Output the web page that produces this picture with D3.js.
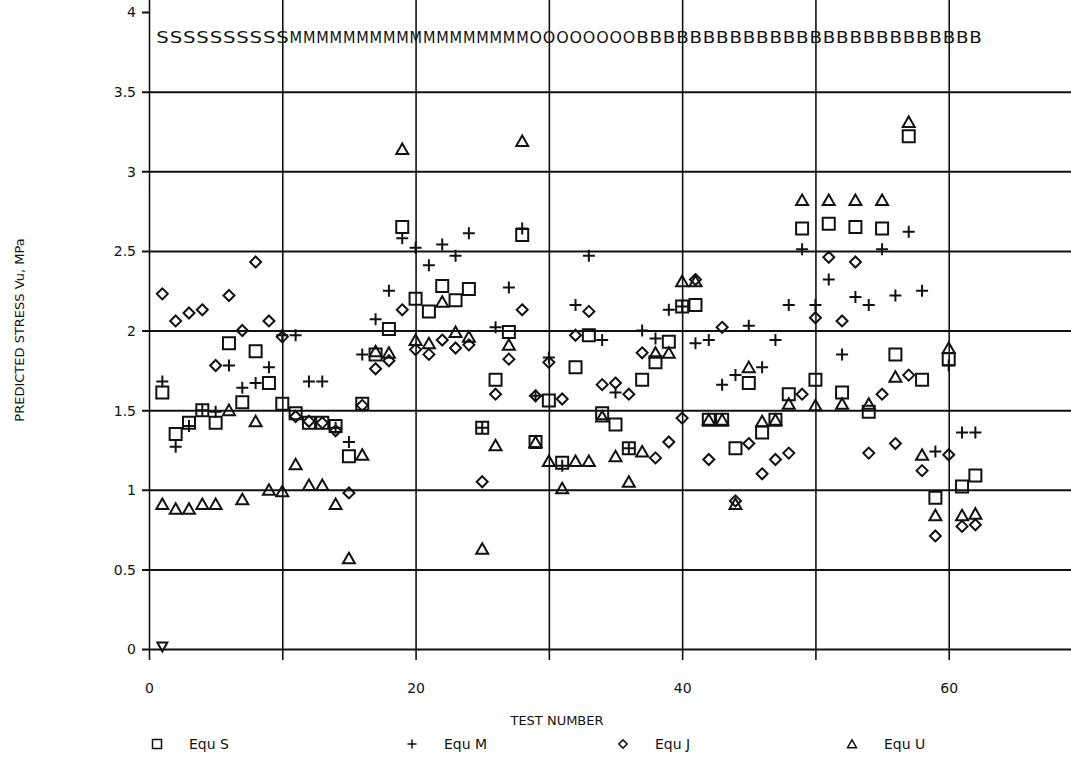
<!DOCTYPE html>
<html>
<head>
<meta charset="utf-8">
<script src="https://cdn.jsdelivr.net/npm/d3@7"></script>
<style>
  body { margin: 0; background: #fff; }
  text { font-family: "DejaVu Sans", sans-serif; fill: #111; }
</style>
</head>
<body>
<svg width="1071" height="757"></svg>
<script>
// test numbers and the group letter printed above each one
const tests = [1,2,3,4,5,6,7,8,9,10,11,12,13,14,15,16,17,18,19,20,21,22,23,24,25,26,27,28,29,30,31,
  32,33,34,35,36,37,38,39,40,41,42,43,44,45,46,47,48,49,50,51,52,53,54,55,56,57,58,59,60,61,62];
const groups = "SSSSSSSSSSMMMMMMMMMMMMMMMMMMOOOOOOOOBBBBBBBBBBBBBBBBBBBBBBBBBB".split("");

// predicted stress (MPa), one value per test
const equS = [1.61,1.35,1.42,1.50,1.42,1.92,1.55,1.87,1.67,1.54,1.48,1.42,1.42,1.40,1.21,1.54,1.85,2.01,2.65,2.20,
  2.12,2.28,2.19,2.26,1.39,1.69,1.99,2.60,1.30,1.56,1.17,1.77,1.97,1.48,1.41,1.26,1.69,1.80,1.93,2.15,
  2.16,1.44,1.44,1.26,1.67,1.36,1.44,1.60,2.64,1.69,2.67,1.61,2.65,1.49,2.64,1.85,3.22,1.69,0.95,1.82,1.02,1.09];
const equM = [1.68,1.27,1.40,1.50,1.49,1.78,1.64,1.67,1.77,1.97,1.97,1.68,1.68,1.39,1.30,1.85,2.07,2.25,2.58,2.52,
  2.41,2.54,2.47,2.61,1.39,2.02,2.27,2.64,1.59,1.83,1.15,2.16,2.47,1.94,1.61,1.26,2.00,1.95,2.13,2.15,
  1.92,1.94,1.66,1.72,2.03,1.77,1.94,2.16,2.51,2.16,2.32,1.85,2.21,2.16,2.51,2.22,2.62,2.25,1.24,1.78,1.36,1.36];
const equJ = [2.23,2.06,2.11,2.13,1.78,2.22,2.00,2.43,2.06,1.96,1.46,1.43,1.42,1.37,0.98,1.53,1.76,1.81,2.13,1.88,
  1.85,1.94,1.89,1.91,1.05,1.60,1.82,2.13,1.59,1.80,1.57,1.97,2.12,1.66,1.67,1.60,1.86,1.20,1.30,1.45,
  2.32,1.19,2.02,0.93,1.29,1.10,1.19,1.23,1.60,2.08,2.46,2.06,2.43,1.23,1.60,1.29,1.72,1.12,0.71,1.22,0.77,0.78];
const equU = [0.91,0.88,0.88,0.91,0.91,1.50,0.94,1.43,1.00,0.99,1.16,1.03,1.03,0.91,0.57,1.22,1.87,1.86,3.14,1.94,
  1.92,2.18,1.99,1.96,0.63,1.28,1.91,3.19,1.30,1.18,1.01,1.18,1.18,1.46,1.21,1.05,1.24,1.86,1.86,2.31,
  2.31,1.44,1.44,0.91,1.77,1.43,1.44,1.54,2.82,1.53,2.82,1.54,2.82,1.54,2.82,1.71,3.31,1.22,0.84,1.89,0.84,0.85];
// stray mark sitting on the zero line
const strayTest = [1];
const strayValue = [0.01];

const yTicks = [0, 0.5, 1, 1.5, 2, 2.5, 3, 3.5, 4];
const xTicks = [0, 10, 20, 30, 40, 50, 60];
const seriesNames = ["Equ S", "Equ M", "Equ J", "Equ U"];

const svg = d3.select("svg");
const W = 1071;

const x = d3.scaleLinear().domain([0, 70]).range([149, 1082]);
const y = d3.scaleLinear().domain([0, 4]).range([649, 12]);

// marker shapes (outline only, like the plotter output)
const shapes = {
  "Equ S": "M-6,-6h12v12h-12Z",
  "Equ M": "M-6,0h12M0,-6v12",
  "Equ J": "M0,-5.5L5.5,0L0,5.5L-5.5,0Z",
  "Equ U": "M0,-5.5L6,5L-6,5Z"
};

// horizontal grid + y ticks (top value only gets a short tick)
const yAxis = svg.append("g")
  .attr("transform", "translate(142,0)")
  .call(d3.axisLeft(y).tickValues(yTicks).tickSize(-(W - 142)).tickPadding(6)
    .tickFormat(d3.format("")));
yAxis.select(".domain").remove();
yAxis.selectAll(".tick line")
  .attr("stroke", "#111")
  .attr("stroke-width", 2)
  .attr("x2", d => d === 4 ? 8 : W - 142);
yAxis.selectAll(".tick text").attr("font-size", 14).attr("dy", "0.35em");

// vertical grid + x ticks, labels every 20
const xAxis = svg.append("g")
  .attr("transform", "translate(0,660)")
  .call(d3.axisBottom(x).tickValues(xTicks).tickSize(-660).tickPadding(23)
    .tickFormat(d => d % 20 === 0 ? d : ""));
xAxis.select(".domain").remove();
xAxis.selectAll(".tick line").attr("stroke", "#111").attr("stroke-width", 1.6);
xAxis.selectAll(".tick text").attr("font-size", 14);

// group letters along the top
svg.append("g").selectAll("text")
  .data(tests)
  .enter()
  .append("text")
  .attr("x", d => x(d) - 6)
  .attr("y", 43)
  .attr("font-size", 15)
  .attr("textLength", 12.5)
  .attr("lengthAdjust", "spacingAndGlyphs")
  .text((d, i) => groups[i]);

// points
const series = [equS, equM, equJ, equU];
series.forEach((vals, k) => {
  svg.append("g").selectAll("path")
    .data(tests)
    .enter()
    .append("path")
    .attr("transform", (d, i) => `translate(${x(d)},${y(vals[i])})`)
    .attr("d", shapes[seriesNames[k]])
    .attr("fill", "none")
    .attr("stroke", "#111")
    .attr("stroke-width", 2);
});

svg.append("g").selectAll("path")
  .data(strayTest)
  .enter()
  .append("path")
  .attr("transform", (d, i) => `translate(${x(d)},${y(strayValue[i])})`)
  .attr("d", "M-5,-5L5,-5L0,4Z")
  .attr("fill", "none")
  .attr("stroke", "#111")
  .attr("stroke-width", 2);

// axis titles
svg.append("text")
  .attr("x", 557)
  .attr("y", 725)
  .attr("text-anchor", "middle")
  .attr("font-size", 13)
  .text("TEST NUMBER");

svg.append("text")
  .attr("transform", "translate(24,330) rotate(-90)")
  .attr("text-anchor", "middle")
  .attr("font-size", 13)
  .text("PREDICTED STRESS Vu, MPa");

// legend row
const legendX = [157, 412, 623, 852];
const legend = svg.append("g").selectAll("g")
  .data(seriesNames)
  .enter()
  .append("g")
  .attr("transform", (d, i) => `translate(${legendX[i]},744)`);
legend.append("path")
  .attr("d", d => shapes[d])
  .attr("transform", "scale(0.75)")
  .attr("fill", "none")
  .attr("stroke", "#111")
  .attr("stroke-width", 2);
legend.append("text")
  .attr("x", 32)
  .attr("y", 5)
  .attr("font-size", 14)
  .text(d => d);
</script>
</body>
</html>
